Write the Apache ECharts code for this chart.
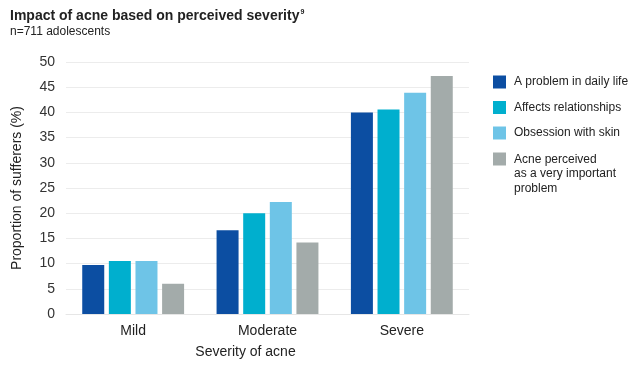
<!DOCTYPE html>
<html>
<head>
<meta charset="utf-8">
<script src="https://cdn.jsdelivr.net/npm/echarts@6/dist/echarts.min.js"></script>
<style>
html,body{margin:0;padding:0;background:#fff;}
#chart{width:638px;height:374px;}
</style>
</head>
<body>
<div id="chart"></div>
<script>
var categories = ['Mild', 'Moderate', 'Severe'];
var seriesNames = ['A problem in daily life', 'Affects relationships', 'Obsession with skin', 'Acne perceived\nas a very important\nproblem'];
var dailyLife = [9.7, 16.6, 40.0];
var relationships = [10.5, 20.0, 40.6];
var obsession = [10.5, 22.2, 43.9];
var veryImportant = [6.0, 14.2, 47.2];
var colors = ['#0c4ea2', '#00afce', '#6ec4e7', '#a3abaa'];
var yTicks = [0, 5, 10, 15, 20, 25, 30, 35, 40, 45, 50];

var font = 'Liberation Sans, Arial, sans-serif';
var chart = echarts.init(document.getElementById('chart'));
var values = [dailyLife, relationships, obsession, veryImportant];
var series = values.map(function (v, i) {
  return {
    name: seriesNames[i],
    type: 'bar',
    data: v,
    barWidth: 22,
    barGap: '21%',
    itemStyle: { color: colors[i] }
  };
});

chart.setOption({
  animation: false,
  textStyle: { fontFamily: font },
  title: [{
    text: '{t|Impact of acne based on perceived severity}{s|9}',
    left: 5, top: 4,
    textStyle: {
      rich: {
        t: { fontFamily: font, fontSize: 14, fontWeight: 'bold', color: '#222' },
        s: { fontFamily: font, fontSize: 7, fontWeight: 'bold', color: '#222', padding: [0, 0, 7, 1] }
      }
    }
  }, {
    text: 'n=711 adolescents',
    left: 5, top: 21,
    textStyle: { fontFamily: font, fontSize: 12, fontWeight: 'normal', color: '#222' }
  }],
  legend: [{
    data: seriesNames.slice(0, 3),
    orient: 'vertical',
    left: 493, top: 75.5, padding: 0,
    itemWidth: 13, itemHeight: 13, itemGap: 12.5,
    icon: 'rect',
    textStyle: { fontFamily: font, fontSize: 12, color: '#222', lineHeight: 13, padding: [0, 0, 0, 3] }
  }, {
    data: seriesNames.slice(3),
    orient: 'vertical',
    left: 493, top: 152, padding: 0,
    itemWidth: 13, itemHeight: 42.5,
    icon: 'path://M0,0H13V13H0Z M0,42.5L0.001,42.5',
    textStyle: { fontFamily: font, fontSize: 12, color: '#222', lineHeight: 14.5, padding: [0, 0, 0, 3] }
  }],
  grid: { left: 66, right: 169, top: 62, bottom: 60 },
  xAxis: {
    type: 'category',
    data: categories,
    name: 'Severity of acne',
    nameLocation: 'middle',
    nameGap: 31,
    nameTextStyle: { fontFamily: font, fontSize: 14, color: '#222', padding: [0, 44, 0, 0] },
    axisLine: { lineStyle: { color: '#e6e6e6' } },
    axisTick: { show: false },
    axisLabel: { fontFamily: font, fontSize: 14, color: '#222', margin: 10 }
  },
  yAxis: {
    type: 'value',
    min: yTicks[0], max: yTicks[yTicks.length - 1], interval: 5,
    name: 'Proportion of sufferers (%)',
    nameLocation: 'middle',
    nameGap: 42,
    nameTextStyle: { fontFamily: font, fontSize: 14, color: '#222' },
    axisLine: { show: false },
    axisTick: { show: false },
    axisLabel: { fontFamily: font, fontSize: 14, color: '#333', margin: 11 },
    splitLine: { lineStyle: { color: '#ececec' } }
  },
  series: series
});
</script>
</body>
</html>
